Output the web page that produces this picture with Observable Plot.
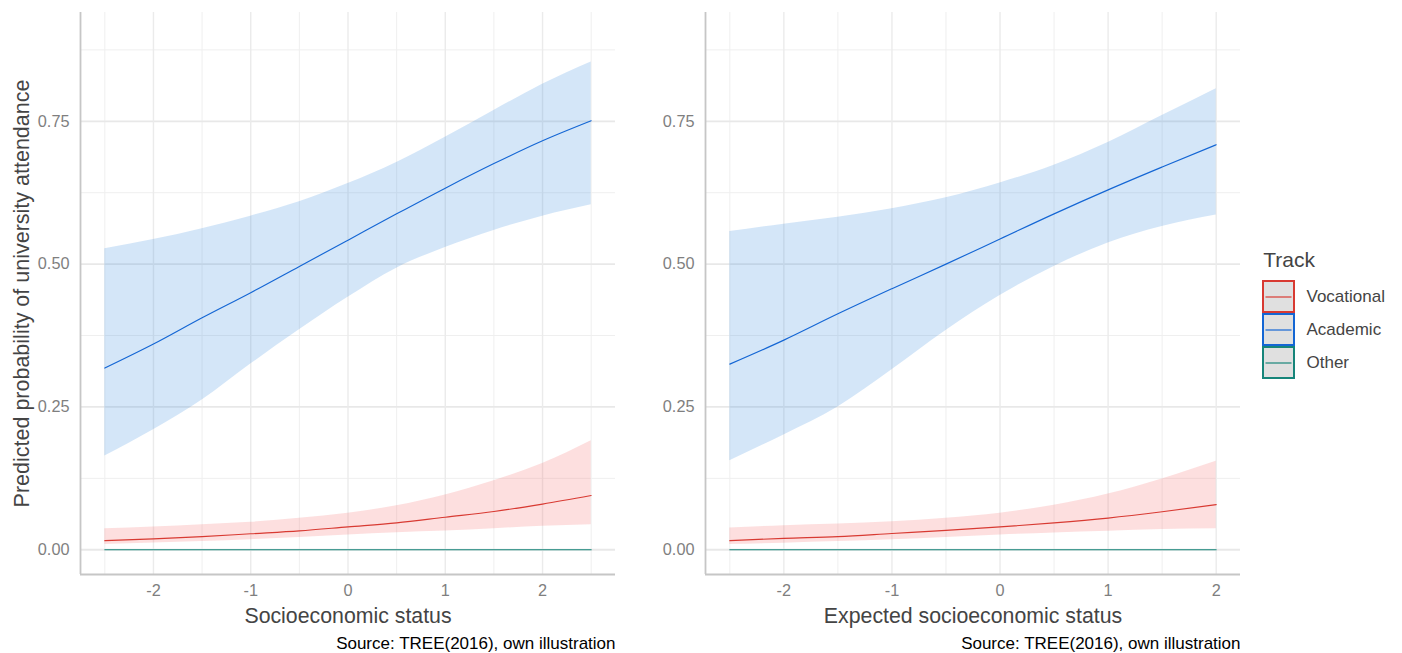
<!DOCTYPE html>
<html>
<head>
<meta charset="utf-8">
<script src="https://cdn.jsdelivr.net/npm/d3@7"></script>
<script src="https://cdn.jsdelivr.net/npm/@observablehq/plot@0.6"></script>
<style>
  html, body { margin: 0; padding: 0; background: #ffffff; }
  #wrap { position: relative; width: 1402px; height: 653px; overflow: hidden; font-family: "Liberation Sans", Arial, sans-serif; }
  #wrap svg { position: absolute; }
</style>
</head>
<body>
<div id="wrap"></div>
<script>
// ---------- data ----------
const tracks = ["Vocational", "Academic", "Other"];
const lineColors = ["#d83a32", "#1466d4", "#16857a"];
const ribbonColors = ["#f46d6d", "#3a8ee0", "#16857a"];

// Left panel: Socioeconomic status
const xSES = [-2.5, -2, -1.5, -1, -0.5, 0, 0.5, 1, 1.5, 2, 2.5];
const sesAcadFit = [0.318, 0.360, 0.406, 0.450, 0.496, 0.542, 0.588, 0.633, 0.676, 0.716, 0.751];
const sesAcadLo  = [0.164, 0.210, 0.262, 0.325, 0.385, 0.442, 0.493, 0.529, 0.559, 0.584, 0.604];
const sesAcadHi  = [0.527, 0.543, 0.562, 0.584, 0.609, 0.641, 0.678, 0.722, 0.769, 0.815, 0.854];
const sesVocFit  = [0.016, 0.019, 0.023, 0.028, 0.033, 0.040, 0.047, 0.057, 0.067, 0.080, 0.095];
const sesVocLo   = [0.009, 0.012, 0.0145, 0.0175, 0.0215, 0.026, 0.030, 0.033, 0.037, 0.041, 0.044];
const sesVocHi   = [0.037, 0.040, 0.044, 0.048, 0.055, 0.064, 0.077, 0.096, 0.121, 0.151, 0.191];
const sesOthFit  = [0, 0, 0, 0, 0, 0, 0, 0, 0, 0, 0];
const sesOthLo   = [0, 0, 0, 0, 0, 0, 0, 0, 0, 0, 0];
const sesOthHi   = [0.0005, 0.0005, 0.0005, 0.0005, 0.0005, 0.0005, 0.0005, 0.0005, 0.0005, 0.0005, 0.0005];

// Right panel: Expected socioeconomic status
const xESES = [-2.5, -2, -1.5, -1, -0.5, 0, 0.5, 1, 1.5, 2];
const esesAcadFit = [0.325, 0.367, 0.413, 0.457, 0.500, 0.544, 0.588, 0.630, 0.670, 0.709];
const esesAcadLo  = [0.156, 0.201, 0.250, 0.315, 0.384, 0.445, 0.496, 0.537, 0.566, 0.586];
const esesAcadHi  = [0.557, 0.570, 0.582, 0.597, 0.616, 0.642, 0.673, 0.713, 0.760, 0.807];
const esesVocFit  = [0.016, 0.020, 0.023, 0.0285, 0.034, 0.040, 0.047, 0.0555, 0.0665, 0.079];
const esesVocLo   = [0.009, 0.0115, 0.0145, 0.0175, 0.0215, 0.026, 0.0295, 0.0325, 0.0355, 0.037];
const esesVocHi   = [0.038, 0.042, 0.045, 0.049, 0.055, 0.064, 0.078, 0.0975, 0.124, 0.155];
const esesOthFit  = [0, 0, 0, 0, 0, 0, 0, 0, 0, 0];
const esesOthLo   = [0, 0, 0, 0, 0, 0, 0, 0, 0, 0];
const esesOthHi   = [0.0005, 0.0005, 0.0005, 0.0005, 0.0005, 0.0005, 0.0005, 0.0005, 0.0005, 0.0005];

// ticks and grid
const xMajor = [-2, -1, 0, 1, 2];
const xMinorSES = [-2.5, -1.5, -0.5, 0.5, 1.5, 2.5];
const xMinorESES = [-2.5, -1.5, -0.5, 0.5, 1.5];
const yMajor = [0, 0.25, 0.5, 0.75];
const yMinor = [0.125, 0.375, 0.625, 0.875];
const yDomain = [-0.0433, 0.9405];

const xTitleSES = "Socioeconomic status";
const xTitleESES = "Expected socioeconomic status";
const yTitle = "Predicted probability of university attendance";
const caption = "Source: TREE(2016), own illustration";

// ---------- helpers ----------
function rows(xs, fit, lo, hi) {
  return xs.map((x, i) => ({x, fit: fit[i], lo: lo[i], hi: hi[i]}));
}

const FONT = "'Liberation Sans', Arial, Helvetica, sans-serif";

function panel({series, xDomain, xMinor, marginLeft, marginRight, width, xTitle, showYTitle}) {
  const marks = [
    Plot.ruleY(yMinor, {stroke: "#efefef", strokeWidth: 1}),
    Plot.ruleX(xMinor, {stroke: "#efefef", strokeWidth: 1}),
    Plot.ruleY(yMajor, {stroke: "#e8e8e8", strokeWidth: 1.8}),
    Plot.ruleX(xMajor, {stroke: "#ebebeb", strokeWidth: 1.4})
  ];
  series.forEach((s, k) => {
    marks.push(Plot.areaY(s, {x: "x", y1: "lo", y2: "hi", fill: ribbonColors[k], fillOpacity: k === 2 ? 0.2 : 0.22, curve: "monotone-x"}));
  });
  series.forEach((s, k) => {
    marks.push(Plot.lineY(s, {x: "x", y: "fit", stroke: lineColors[k], strokeWidth: 1.15, curve: "monotone-x"}));
  });
  marks.push(
    Plot.ruleX([xDomain[0]], {stroke: "#c6c6c6", strokeWidth: 1.8}),
    Plot.ruleY([yDomain[0]], {stroke: "#c6c6c6", strokeWidth: 1.8}),
    Plot.axisY(yMajor, {tickSize: 0, tickPadding: 11, fontSize: 16.3, color: "#7f7f7f", tickFormat: d3.format(".2f"), label: null}),
    Plot.axisX(xMajor, {tickSize: 0, tickPadding: 10, fontSize: 16.3, color: "#7f7f7f", tickFormat: d => String(d), label: null}),
    Plot.text([xTitle], {frameAnchor: "bottom", text: d => d, textAnchor: "middle", lineAnchor: "bottom", dy: 48.5, fontSize: 21.3, fill: "#444444"}),
    Plot.text([caption], {frameAnchor: "bottom-right", text: d => d, textAnchor: "end", lineAnchor: "bottom", dy: 74, fontSize: 17, fill: "#000000"})
  );
  if (showYTitle) {
    marks.push(Plot.text([yTitle], {frameAnchor: "left", text: d => d, rotate: -90, textAnchor: "middle", lineAnchor: "bottom", dx: -52, fontSize: 21.5, fill: "#444444"}));
  }
  return Plot.plot({
    width, height: 653,
    marginTop: 12, marginBottom: 79, marginLeft, marginRight,
    x: {domain: xDomain},
    y: {domain: yDomain},
    style: {fontFamily: FONT, background: "transparent", overflow: "visible"},
    marks
  });
}

const wrap = document.getElementById("wrap");

const left = panel({
  series: [rows(xSES, sesVocFit, sesVocLo, sesVocHi), rows(xSES, sesAcadFit, sesAcadLo, sesAcadHi), rows(xSES, sesOthFit, sesOthLo, sesOthHi)],
  xDomain: [-2.75, 2.75], xMinor: xMinorSES,
  width: 620, marginLeft: 80, marginRight: 5,
  xTitle: xTitleSES, showYTitle: true
});
left.style.left = "0px"; left.style.top = "0px";
wrap.appendChild(left);

const right = panel({
  series: [rows(xESES, esesVocFit, esesVocLo, esesVocHi), rows(xESES, esesAcadFit, esesAcadLo, esesAcadHi), rows(xESES, esesOthFit, esesOthLo, esesOthHi)],
  xDomain: [-2.725, 2.225], xMinor: xMinorESES,
  width: 620, marginLeft: 75, marginRight: 10,
  xTitle: xTitleESES, showYTitle: false
});
right.style.left = "630px"; right.style.top = "0px";
wrap.appendChild(right);

// legend
const legend = Plot.plot({
  width: 150, height: 150,
  marginTop: 39, marginBottom: 9.4, marginLeft: 12.7, marginRight: 105.7,
  x: {type: "band", domain: ["k"], padding: 0, axis: null},
  y: {type: "band", domain: tracks, padding: 0.06, axis: null},
  color: {domain: tracks, range: lineColors},
  style: {fontFamily: FONT, background: "transparent", overflow: "visible"},
  marks: [
    Plot.cell(tracks, {x: () => "k", y: d => d, fill: "#e0e0e0", stroke: d => d, strokeWidth: 2}),
    Plot.tickY(tracks, {x: () => "k", y: d => d, stroke: d => d, strokeWidth: 1.2, insetLeft: 2.5, insetRight: 2.5}),
    Plot.text(tracks, {x: () => "k", y: d => d, text: d => d, textAnchor: "start", dx: 27.5, fontSize: 17, fill: "#444444"}),
    Plot.text(["Track"], {frameAnchor: "top-left", text: d => d, textAnchor: "start", lineAnchor: "bottom", dy: -12.3, fontSize: 21, fill: "#444444"})
  ]
});
legend.style.left = "1250px"; legend.style.top = "240px";
wrap.appendChild(legend);
</script>
</body>
</html>
